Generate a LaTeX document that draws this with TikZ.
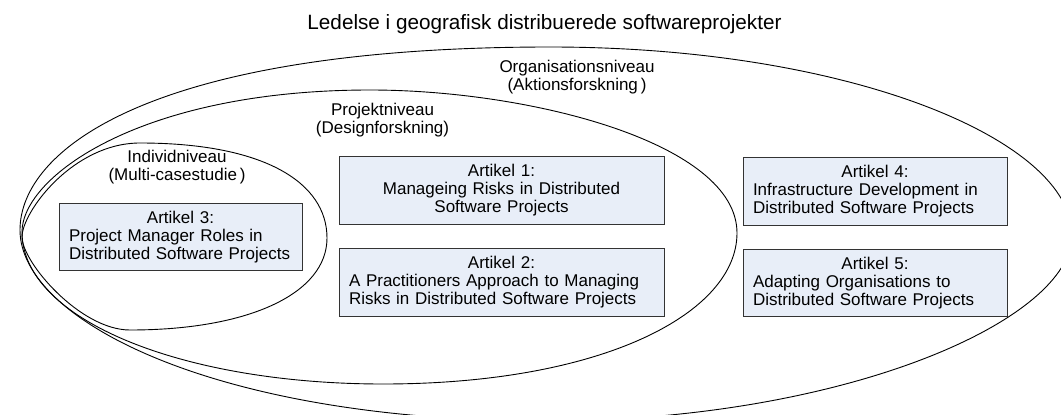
\documentclass[tikz,border=0pt]{standalone}
\usepackage{fontspec}
\setmainfont{Liberation Sans}
\definecolor{boxfill}{HTML}{E8EEF8}
\begin{document}
\begin{tikzpicture}[x=1pt,y=-1pt,
  ring/.style={draw=black,line width=0.9pt},
  artbox/.style={draw=black!80,fill=boxfill,line width=0.8pt,
    minimum height=67.5pt,inner xsep=10pt,inner ysep=0pt,
    font=\fontsize{17}{18}\selectfont},
  lbl/.style={align=center,inner sep=0pt,anchor=base,
    font=\fontsize{17}{18}\selectfont},
]
\useasboundingbox (0,0) rectangle (1061,415);

% nested levels: organisation, project, individual
\begin{scope}
  \clip (0,0) rectangle (1061,415);
  \draw[ring] (20,230) .. controls (20,150) and (150,47) .. (550,47)
    .. controls (850,47) and (1072,140) .. (1072,235)
    .. controls (1072,320) and (845,421) .. (545,421)
    .. controls (215,421) and (20,320) .. cycle;
  \draw[ring] (22,232) .. controls (22,177) and (140,90) .. (370,90)
    .. controls (530,90) and (737,143) .. (737,233)
    .. controls (737,313) and (603,384) .. (383,384)
    .. controls (183,384) and (22,320) .. cycle;
  \draw[ring] (22,237) .. controls (22,212) and (73,143) .. (140,143)
    .. controls (265,143) and (327,183) .. (327,238)
    .. controls (327,293) and (250,330) .. (130,330)
    .. controls (80,330) and (22,262) .. cycle;
\end{scope}

\node[anchor=base,inner sep=0pt,font=\fontsize{20.7}{24}\selectfont] (title)
  at (544.5,30) {Ledelse i geografisk distribuerede softwareprojekter};

% two-line level labels; the base anchor sits on the second line
\node[lbl] (org) at (577,90) {Organisationsniveau\\(Aktionsforskning\,)};
\node[lbl] (proj) at (382.5,133) {Projektniveau\\(Designforskning)};
\node[lbl] (ind) at (177,180) {Individniveau\\(Multi-casestudie\,)};

\node[artbox,text width=305pt,align=center] (a1) at (501.5,190.5)
  {Artikel 1:\\Manageing Risks in Distributed\\Software Projects};
\node[artbox,text width=305pt,align=left] (a2) at (501.5,282.5)
  {\makebox[\linewidth]{Artikel 2:}\\A Practitioners Approach to Managing\\Risks in Distributed Software Projects};
\node[artbox,text width=223pt,align=left] (a3) at (180.5,237)
  {\makebox[\linewidth]{Artikel 3:}\\Project Manager Roles in\\Distributed Software Projects};
\node[artbox,text width=244pt,align=left] (a4) at (875,191.5)
  {\makebox[\linewidth]{Artikel 4:}\\Infrastructure Development in\\Distributed Software Projects};
\node[artbox,text width=244pt,align=left] (a5) at (875,283)
  {\makebox[\linewidth]{Artikel 5:}\\Adapting Organisations to\\Distributed Software Projects};
\end{tikzpicture}
\end{document}
